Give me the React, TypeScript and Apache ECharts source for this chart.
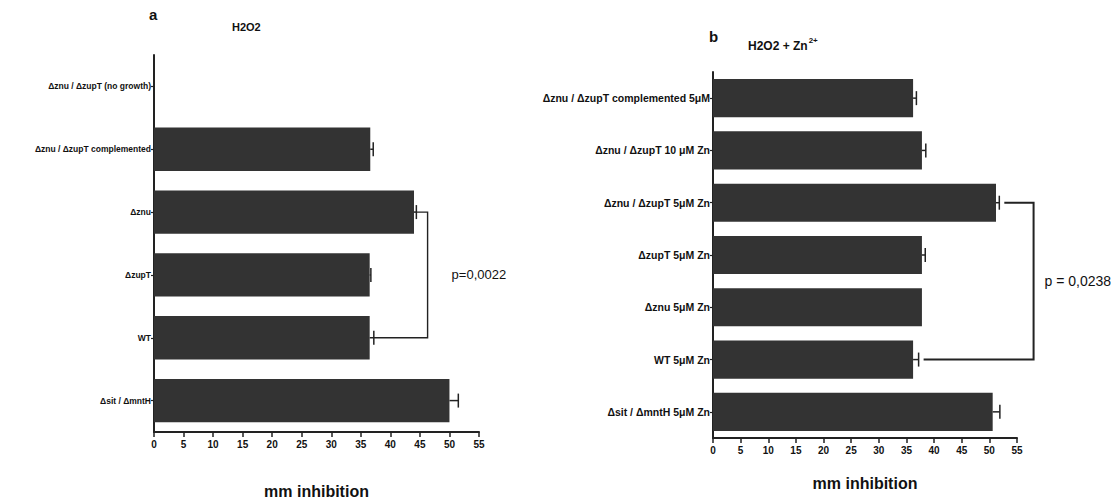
import React, { useEffect, useRef } from "react";
import * as echarts from "echarts";

const FONT = "'Liberation Sans Narrow', 'Liberation Sans', Arial, sans-serif";

// Panel a (H2O2)
const catsA = [
  "Δznu / ΔzupT (no growth)",
  "Δznu / ΔzupT complemented",
  "Δznu",
  "ΔzupT",
  "WT",
  "Δsit / ΔmntH",
];
const valsA = [0, 36.6, 44.0, 36.5, 36.5, 50.0];
const errA = [0, 0.5, 0.4, 0.2, 0.7, 1.5];

// Panel b (H2O2 + Zn2+)
const catsB = [
  "Δznu / ΔzupT complemented 5μM",
  "Δznu / ΔzupT 10 μM Zn",
  "Δznu / ΔzupT 5μM Zn",
  "ΔzupT 5μM Zn",
  "Δznu 5μM Zn",
  "WT 5μM Zn",
  "Δsit / ΔmntH 5μM Zn",
];
const valsB = [36.2, 37.8, 51.2, 37.8, 37.8, 36.2, 50.6];
const errB = [0.6, 0.7, 0.6, 0.6, 0, 1.0, 1.3];

// x axis ticks
const xMin = 0;
const xMax = 55;
const xStep = 5;

// significance brackets
const bracketA = { from: 2, to: 4, x: 46.3, label: "p=0,0022" };
const bracketB = { from: 2, to: 5, x: 58.0, label: "p = 0,0238" };

const errSeries = (vals: number[], errs: number[], axis: number) => ({
  type: "custom",
  xAxisIndex: axis,
  yAxisIndex: axis,
  encode: { x: [0], y: [1] },
  data: vals.map((v, i) => [v, i, errs[i]]),
  z: 3,
  renderItem: (params: any, api: any) => {
    const v = api.value(0);
    const i = api.value(1);
    const e = api.value(2);
    if (!e || e <= 0) return null;
    const p0 = api.coord([v, i]);
    const p1 = api.coord([v + e, i]);
    return {
      type: "group",
      children: [
        { type: "line", shape: { x1: p0[0], y1: p0[1], x2: p1[0], y2: p1[1] }, style: { stroke: "#222", lineWidth: 1.5 } },
        { type: "line", shape: { x1: p1[0], y1: p1[1] - 7, x2: p1[0], y2: p1[1] + 7 }, style: { stroke: "#222", lineWidth: 1.5 } },
      ],
    };
  },
});

const bracketSeries = (
  b: { from: number; to: number; x: number; label: string },
  vals: number[],
  errs: number[],
  axis: number,
  gap: number,
  textGap: number,
  fontSize: number,
  lw: number
) => ({
  type: "custom",
  xAxisIndex: axis,
  yAxisIndex: axis,
  clip: false,
  encode: { x: [1, 3, 4], y: [0, 2] },
  data: [[b.from, vals[b.from] + errs[b.from], b.to, vals[b.to] + errs[b.to], b.x]],
  z: 4,
  renderItem: (params: any, api: any) => {
    const fi = api.value(0);
    const fx = api.value(1);
    const ti = api.value(2);
    const tx = api.value(3);
    const bx = api.value(4);
    const a = api.coord([fx, fi]);
    const c = api.coord([bx, fi]);
    const d = api.coord([bx, ti]);
    const e = api.coord([tx, ti]);
    return {
      type: "group",
      children: [
        {
          type: "polyline",
          shape: { points: [[a[0] + gap, a[1]], [c[0], c[1]], [d[0], d[1]], [e[0] + gap, e[1]]] },
          style: { stroke: "#222", lineWidth: lw, fill: "none" },
        },
        {
          type: "text",
          x: c[0] + textGap,
          y: (c[1] + d[1]) / 2,
          style: {
            text: b.label,
            fill: "#111",
            font: `${fontSize}px ${FONT}`,
            verticalAlign: "middle",
          },
        },
      ],
    };
  },
});

const xAxisCfg = (grid: number, nameGap: number) => ({
  type: "value",
  gridIndex: grid,
  min: xMin,
  max: xMax,
  interval: xStep,
  name: "mm inhibition",
  nameLocation: "middle",
  nameGap,
  nameTextStyle: { fontFamily: FONT, fontSize: 16, fontWeight: "bold", color: "#111" },
  axisLine: { show: true, lineStyle: { color: "#222", width: 2 } },
  axisTick: { show: true, length: 5, lineStyle: { color: "#222", width: 1.5 } },
  axisLabel: { fontFamily: FONT, fontSize: 10, fontWeight: "bold", color: "#111", margin: 7 },
  splitLine: { show: false },
});

const yAxisCfg = (grid: number, cats: string[], fontSize: number) => ({
  type: "category",
  gridIndex: grid,
  data: cats,
  inverse: true,
  axisLine: { show: true, lineStyle: { color: "#222", width: 2 } },
  axisTick: { show: true, length: 3, alignWithLabel: true, lineStyle: { color: "#222", width: 1.2 } },
  axisLabel: { fontFamily: FONT, fontSize, fontWeight: "bold", color: "#111", margin: 3 },
});

export default function App() {
  const ref = useRef<HTMLDivElement>(null);
  useEffect(() => {
    if (!ref.current) return;
    const chart = echarts.init(ref.current, null, { renderer: "svg" });
    chart.setOption({
      animation: false,
      backgroundColor: "#ffffff",
      grid: [
        { left: 154, top: 55, width: 325, height: 388, containLabel: false },
        { left: 713, top: 72, width: 304, height: 366, containLabel: false },
      ],
      xAxis: [xAxisCfg(0, 51), xAxisCfg(1, 37)],
      yAxis: [yAxisCfg(0, catsA, 8.5), yAxisCfg(1, catsB, 10.5)],
      graphic: [
        { type: "text", left: 149, top: 7, style: { text: "a", font: `bold 15px ${FONT}`, fill: "#111" } },
        { type: "text", left: 232, top: 21, style: { text: "H2O2", font: `bold 11px ${FONT}`, fill: "#111" } },
        { type: "text", left: 709, top: 29, style: { text: "b", font: `bold 15px ${FONT}`, fill: "#111" } },
        {
          type: "text",
          left: 748,
          top: 36,
          style: {
            text: "{m|H2O2 + Zn}{s|2+}",
            rich: {
              m: { font: `bold 12px ${FONT}`, fill: "#111", verticalAlign: "bottom" },
              s: { font: `bold 8px ${FONT}`, fill: "#111", verticalAlign: "top", padding: [0, 0, 8, 1] },
            },
          },
        },
      ],
      series: [
        {
          type: "bar",
          xAxisIndex: 0,
          yAxisIndex: 0,
          data: valsA,
          barCategoryGap: "31%",
          itemStyle: { color: "#333333" },
          z: 2,
        },
        {
          type: "bar",
          xAxisIndex: 1,
          yAxisIndex: 1,
          data: valsB,
          barCategoryGap: "27%",
          itemStyle: { color: "#333333" },
          z: 2,
        },
        errSeries(valsA, errA, 0),
        errSeries(valsB, errB, 1),
        bracketSeries(bracketA, valsA, errA, 0, 0, 24, 13, 1.4),
        bracketSeries(bracketB, valsB, errB, 1, 5, 11, 14, 2),
      ],
    });
    return () => chart.dispose();
  }, []);
  return (
    <div
      ref={ref}
      style={{ position: "fixed", left: 0, top: 0, width: 1115, height: 504, background: "#fff" }}
    />
  );
}
